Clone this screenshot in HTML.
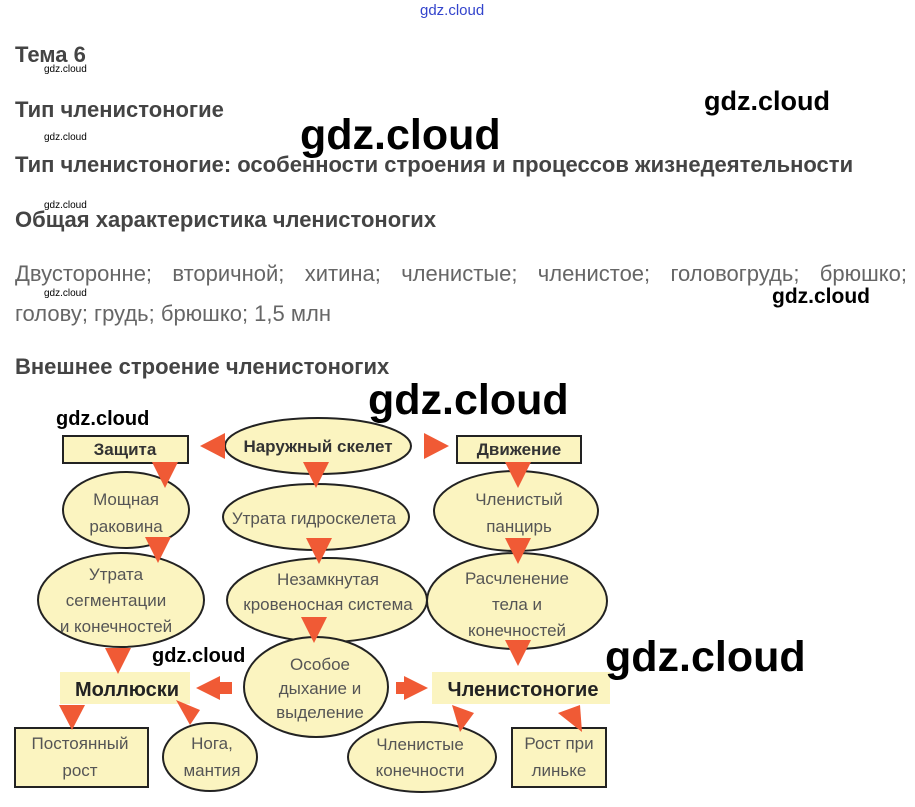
<!DOCTYPE html>
<html><head><meta charset="utf-8"><style>
body{margin:0;width:915px;height:807px;background:#fff;overflow:hidden;position:relative;font-family:"Liberation Sans",sans-serif}
.h{position:absolute;left:15px;font-weight:bold;font-size:22px;color:#444;white-space:nowrap;line-height:24px}
.w{position:absolute;font-family:"Liberation Sans",sans-serif;font-weight:bold;color:#000;white-space:nowrap}
.s{font-size:10px;font-weight:normal}
</style></head><body>
<div class="w" style="left:420px;top:2px;font-size:15px;color:#3344cc;font-weight:normal">gdz.cloud</div>
<div class="h" style="top:43px">Тема 6</div>
<div class="w s" style="left:44px;top:64px">gdz.cloud</div>
<div class="h" style="top:98px">Тип членистоногие</div>
<div class="w s" style="left:44px;top:132px">gdz.cloud</div>
<div class="w" style="left:704px;top:86px;font-size:27px">gdz.cloud</div>
<div class="w" style="left:300px;top:111px;font-size:43px">gdz.cloud</div>
<div class="h" style="top:153px">Тип членистоногие: особенности строения и процессов жизнедеятельности</div>
<div class="w s" style="left:44px;top:200px">gdz.cloud</div>
<div class="h" style="top:208px">Общая характеристика членистоногих</div>
<div style="position:absolute;left:15px;top:261px;width:892px;font-size:22px;color:#666;text-align:justify;text-align-last:justify">Двусторонне; вторичной; хитина; членистые; членистое; головогрудь; брюшко;</div>
<div style="position:absolute;left:15px;top:301px;font-size:22px;color:#666">голову; грудь; брюшко; 1,5 млн</div>
<div class="w s" style="left:44px;top:288px">gdz.cloud</div>
<div class="w" style="left:772px;top:285px;font-size:21px">gdz.cloud</div>
<div class="h" style="top:355px">Внешнее строение членистоногих</div>
<svg width="915" height="807" style="position:absolute;left:0;top:0" font-family="Liberation Sans, sans-serif" font-size="17" fill="#555">
<g stroke="#222" stroke-width="2" fill="#fbf4c0">
<rect x="63" y="436" width="125" height="27"/>
<rect x="457" y="436" width="124" height="27"/>
<ellipse cx="318" cy="446" rx="93" ry="28"/>
<ellipse cx="126" cy="510" rx="63" ry="38"/>
<ellipse cx="316" cy="517" rx="93" ry="33"/>
<ellipse cx="516" cy="511" rx="82" ry="40"/>
<ellipse cx="121" cy="600" rx="83" ry="47"/>
<ellipse cx="327" cy="600" rx="100" ry="42"/>
<ellipse cx="517" cy="601" rx="90" ry="48"/>
<ellipse cx="316" cy="687" rx="72" ry="50"/>
<rect x="15" y="728" width="133" height="59"/>
<ellipse cx="210" cy="757" rx="47" ry="34"/>
<ellipse cx="422" cy="757" rx="74" ry="35"/>
<rect x="512" y="728" width="94" height="59"/>
</g>
<rect x="60" y="672" width="130" height="32" fill="#fbf4c0"/>
<rect x="432" y="672" width="178" height="32" fill="#fbf4c0"/>
<g fill="#f05a35">
<polygon points="200,446 225,433 225,459"/>
<polygon points="449,446 424,433 424,459"/>
<polygon points="152,462 178,462 165,488"/>
<polygon points="303,462 329,462 316,488"/>
<polygon points="505,462 531,462 518,488"/>
<polygon points="145,537 171,537 158,563"/>
<polygon points="306,538 332,538 319,564"/>
<polygon points="505,538 531,538 518,564"/>
<polygon points="301,617 327,617 314,643"/>
<polygon points="105,648 131,648 118,674"/>
<polygon points="505,640 531,640 518,666"/>
<polygon points="196,688 220,676 220,700"/>
<rect x="218" y="682" width="14" height="12"/>
<polygon points="428,688 404,676 404,700"/>
<rect x="396" y="682" width="10" height="12"/>
<polygon points="59,705 85,705 72,730"/>
<polygon points="176,700 200,710 190,725"/>
<polygon points="452,705 474,713 460,732"/>
<polygon points="558,713 580,705 582,732"/>
</g>
<g fill="#333" font-weight="bold" text-anchor="middle">
<text x="125" y="455">Защита</text>
<text x="519" y="455">Движение</text>
<text x="318" y="452">Наружный скелет</text>
<text x="127" y="696" font-size="20" fill="#222">Моллюски</text>
<text x="523" y="696" font-size="20" fill="#222">Членистоногие</text>
</g>
<g text-anchor="middle">
<text x="126" y="505">Мощная</text><text x="126" y="532">раковина</text>
<text x="314" y="524">Утрата гидроскелета</text>
<text x="519" y="505">Членистый</text><text x="519" y="532">панцирь</text>
<text x="116" y="580">Утрата</text><text x="116" y="606">сегментации</text><text x="116" y="632">и конечностей</text>
<text x="328" y="585">Незамкнутая</text><text x="328" y="610">кровеносная система</text>
<text x="517" y="584">Расчленение</text><text x="517" y="610">тела и</text><text x="517" y="636">конечностей</text>
<text x="320" y="670">Особое</text><text x="320" y="694">дыхание и</text><text x="320" y="718">выделение</text>
<text x="80" y="749">Постоянный</text><text x="80" y="776">рост</text>
<text x="212" y="749">Нога,</text><text x="212" y="776">мантия</text>
<text x="420" y="750">Членистые</text><text x="420" y="776">конечности</text>
<text x="559" y="749">Рост при</text><text x="559" y="776">линьке</text>
</g>
<g fill="#000" font-family="Liberation Sans, sans-serif" font-weight="bold">
<text x="56" y="425" font-size="20">gdz.cloud</text>
<text x="368" y="414" font-size="43">gdz.cloud</text>
<text x="152" y="662" font-size="20">gdz.cloud</text>
<text x="605" y="671" font-size="43">gdz.cloud</text>
</g>
</svg>
</body></html>
